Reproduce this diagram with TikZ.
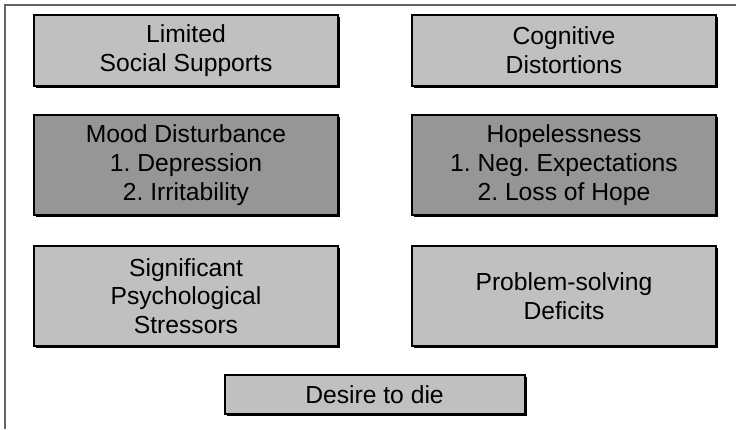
\documentclass[tikz,border=0pt]{standalone}
\usepackage{fontspec}
\setmainfont{Liberation Sans}
\usetikzlibrary{shadows}
\definecolor{boxlight}{RGB}{192,192,192}
\definecolor{boxdark}{RGB}{150,150,150}
\definecolor{framegray}{RGB}{100,100,100}
\frenchspacing
\begin{document}
\begin{tikzpicture}[x=0.75pt, y=-0.75pt,
	factor/.style={draw=black, line width=1.5pt, fill=boxlight, align=center,
		inner sep=0pt, minimum width=228pt, minimum height=53.25pt,
		font=\fontsize{18.5}{21.5}\selectfont,
		drop shadow={shadow xshift=1.5pt, shadow yshift=-1.5pt, fill=black, opacity=1}},
	keyfactor/.style={factor, fill=boxdark, minimum height=75pt}]
			\useasboundingbox (0,0) rectangle (736,429);
			% frame
			\draw[framegray, line width=1.2pt] (736,5) -- (5,5) -- (5,429);
			
			\node[factor] (limited) at (186,50.5) {Limited\\Social Supports};
			\node[factor] (cognitive) at (564,50.5) {Cognitive\\Distortions};
			
			\node[keyfactor] (mood) at (186,165) {Mood Disturbance\\1. Depression\\2. Irritability};
			\node[keyfactor] (hope) at (564,165) {Hopelessness\\1. Neg. Expectations\\2. Loss of Hope};
			
			\node[factor, minimum height=75pt] (stress) at (186,296) {Significant\\Psychological\\Stressors};
			\node[factor, minimum height=75pt] (problem) at (564,296) {Problem-solving\\Deficits};
			
			\node[factor, minimum width=225pt, minimum height=29.25pt] (desire) at (374.5,394.5) {Desire to die};
		\end{tikzpicture}
\end{document}
